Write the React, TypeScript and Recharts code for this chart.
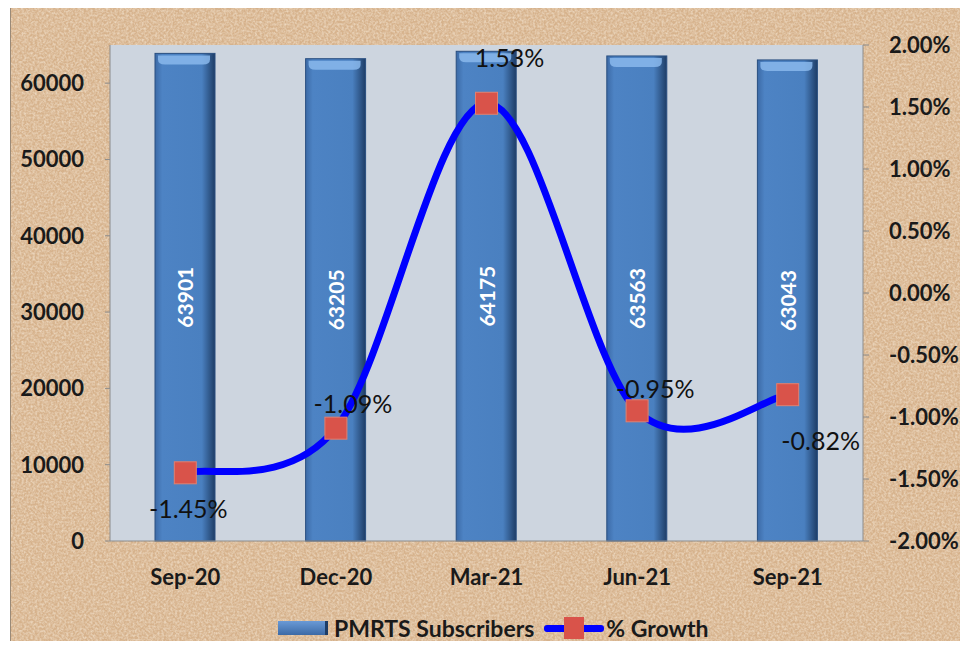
import {
  Bar,
  CartesianGrid,
  ComposedChart,
  LabelList,
  Line,
  XAxis,
  YAxis,
} from "recharts";

const quarters = ["Sep-20", "Dec-20", "Mar-21", "Jun-21", "Sep-21"];
const subscribers = [63901, 63205, 64175, 63563, 63043];
const growth = [-1.45, -1.09, 1.53, -0.95, -0.82];

const leftTicks = [0, 10000, 20000, 30000, 40000, 50000, 60000];
const rightTicks = [-2, -1.5, -1, -0.5, 0, 0.5, 1, 1.5, 2];

// where each growth label sits relative to its marker
const labelOffsets = [
  { dx: 3, dy: 35 },
  { dx: 17, dy: -25 },
  { dx: 23, dy: -46 },
  { dx: 18, dy: -23 },
  { dx: 33, dy: 45 },
];

const data = quarters.map((q, i) => ({
  quarter: q,
  subs: subscribers[i],
  growth: growth[i],
}));

const FONT = "Lato, 'Open Sans', sans-serif";

// Excel-style smoothed line (Catmull-Rom through the points)
function smoothCurve(context: any) {
  let pts: number[][] = [];
  return {
    areaStart() {},
    areaEnd() {},
    lineStart() {
      pts = [];
    },
    point(x: number, y: number) {
      pts.push([+x, +y]);
    },
    lineEnd() {
      if (!pts.length) return;
      context.moveTo(pts[0][0], pts[0][1]);
      for (let i = 0; i < pts.length - 1; i++) {
        const p0 = pts[Math.max(i - 1, 0)];
        const p1 = pts[i];
        const p2 = pts[i + 1];
        const p3 = pts[Math.min(i + 2, pts.length - 1)];
        context.bezierCurveTo(
          p1[0] + (p2[0] - p0[0]) / 6,
          p1[1] + (p2[1] - p0[1]) / 6,
          p2[0] - (p3[0] - p1[0]) / 6,
          p2[1] - (p3[1] - p1[1]) / 6,
          p2[0],
          p2[1]
        );
      }
    },
  };
}

function BarShape(props: any) {
  const { x, y, width, height } = props;
  if (!height || height <= 0) return null;
  return (
    <g>
      <rect x={x} y={y} width={width} height={height} fill="url(#barGrad)" />
      <rect x={x} y={y} width={width} height={height} fill="none" stroke="#2a4f80" strokeWidth={1} />
      <path
        d={`M${x + 3},${y + 2} H${x + width - 5} V${y + 6} Q${x + width - 5},${y + 11} ${x + width - 12},${y + 11} H${x + 10} Q${x + 3},${y + 11} ${x + 3},${y + 6} Z`}
        fill="#8ab8ec"
        opacity={0.85}
      />
    </g>
  );
}

function BarValue(props: any) {
  const { x, y, width, height, value } = props;
  const cx = x + width / 2;
  const cy = y + height / 2;
  return (
    <text
      x={cx}
      y={cy}
      transform={`rotate(-90 ${cx} ${cy})`}
      textAnchor="middle"
      dominantBaseline="central"
      fill="#ffffff"
      fontFamily={FONT}
      fontWeight="bold"
      fontSize={21}
    >
      {value}
    </text>
  );
}

function Marker(props: any) {
  const { cx, cy } = props;
  if (cx == null || cy == null) return null;
  return <rect x={cx - 11} y={cy - 11} width={22} height={22} fill="#d9534a" stroke="#e2806f" strokeWidth={1} />;
}

function GrowthLabel(props: any) {
  const { x, y, value, index } = props;
  const off = labelOffsets[index] || { dx: 0, dy: 0 };
  return (
    <text
      x={x + off.dx}
      y={y + off.dy}
      textAnchor="middle"
      dominantBaseline="central"
      fill="#111"
      fontFamily={FONT}
      fontSize={25}
    >
      {`${value.toFixed(2)}%`}
    </text>
  );
}

const tickStyle = { fill: "#1a1a1a", fontSize: 22, fontWeight: "bold", fontFamily: FONT };

export default function App() {
  return (
    <div
      style={{
        margin: -8,
        width: 968,
        height: 649,
        background: "#ffffff",
        position: "relative",
        overflow: "hidden",
      }}
    >
      <div
        style={{
          position: "absolute",
          left: 10,
          top: 5,
          width: 952,
          height: 650,
          background: "#d6b28c",
          border: "1px solid #9a8a78",
        }}
      />
      <svg
        width={952}
        height={650}
        style={{ position: "absolute", left: 11, top: 6 }}
      >
        <filter id="sand">
          <feTurbulence type="fractalNoise" baseFrequency="0.45" numOctaves={2} seed={3} />
          <feColorMatrix
            type="matrix"
            values="0 0 0 0 1  0 0 0 0 0.93  0 0 0 0 0.82  0 0 0 -1.6 1.1"
          />
        </filter>
        <rect width={952} height={650} filter="url(#sand)" opacity={0.6} />
      </svg>
      <div style={{ position: "absolute", left: 0, top: 0 }}>
        <ComposedChart
          width={968}
          height={649}
          data={data}
          margin={{ top: 45, right: 0, bottom: 0, left: 0 }}
        >
          <defs>
            <linearGradient id="barGrad" x1="0" y1="0" x2="1" y2="0">
              <stop offset="0%" stopColor="#3c6aa6" />
              <stop offset="12%" stopColor="#4d83c4" />
              <stop offset="78%" stopColor="#4a80c0" />
              <stop offset="100%" stopColor="#1e3d66" />
            </linearGradient>
          </defs>
          <CartesianGrid horizontal={false} vertical={false} fill="#cdd5df" />
          <XAxis
            dataKey="quarter"
            height={108}
            axisLine={{ stroke: "#8c8c8c" }}
            tickLine={false}
            tick={tickStyle}
            tickMargin={22}
          />
          <YAxis
            yAxisId="left"
            width={110}
            domain={[0, 65000]}
            ticks={leftTicks}
            axisLine={{ stroke: "#8c8c8c" }}
            tickLine={{ stroke: "#8c8c8c" }}
            tickSize={5}
            tickMargin={21}
            tick={tickStyle}
          />
          <YAxis
            yAxisId="right"
            orientation="right"
            width={105}
            domain={[-2, 2]}
            ticks={rightTicks}
            tickFormatter={(v: number) => `${v.toFixed(2)}%`}
            axisLine={{ stroke: "#8c8c8c" }}
            tickLine={{ stroke: "#8c8c8c" }}
            tickSize={6}
            tickMargin={20}
            tick={tickStyle}
          />
          <Bar
            yAxisId="left"
            dataKey="subs"
            barSize={60}
            shape={<BarShape />}
            isAnimationActive={false}
          >
            <LabelList dataKey="subs" content={<BarValue />} />
          </Bar>
          <Line
            yAxisId="right"
            type={smoothCurve as any}
            dataKey="growth"
            stroke="#0000ff"
            strokeWidth={7}
            dot={<Marker />}
            activeDot={false}
            isAnimationActive={false}
          >
            <LabelList dataKey="growth" content={<GrowthLabel />} />
          </Line>
        </ComposedChart>
      </div>
      <div
        style={{
          position: "absolute",
          left: 278,
          top: 614,
          display: "flex",
          alignItems: "center",
          fontFamily: FONT,
          fontSize: 23,
          fontWeight: "bold",
          color: "#1a1a1a",
        }}
      >
        <span
          style={{
            display: "inline-block",
            width: 47,
            height: 14,
            background: "linear-gradient(#6a9ad6, #3c6aa6)",
            borderRight: "3px solid #1e3d66",
            marginRight: 6,
          }}
        />
        <span>PMRTS Subscribers</span>
        <span style={{ position: "relative", display: "inline-block", width: 60, height: 22, marginLeft: 10 }}>
          <span
            style={{
              position: "absolute",
              left: 0,
              top: 8,
              width: 60,
              height: 7,
              background: "#0000ff",
              borderRadius: 3,
            }}
          />
          <span
            style={{
              position: "absolute",
              left: 20,
              top: 0,
              width: 20,
              height: 22,
              background: "#d9534a",
            }}
          />
        </span>
        <span style={{ marginLeft: 2 }}>% Growth</span>
      </div>
    </div>
  );
}
